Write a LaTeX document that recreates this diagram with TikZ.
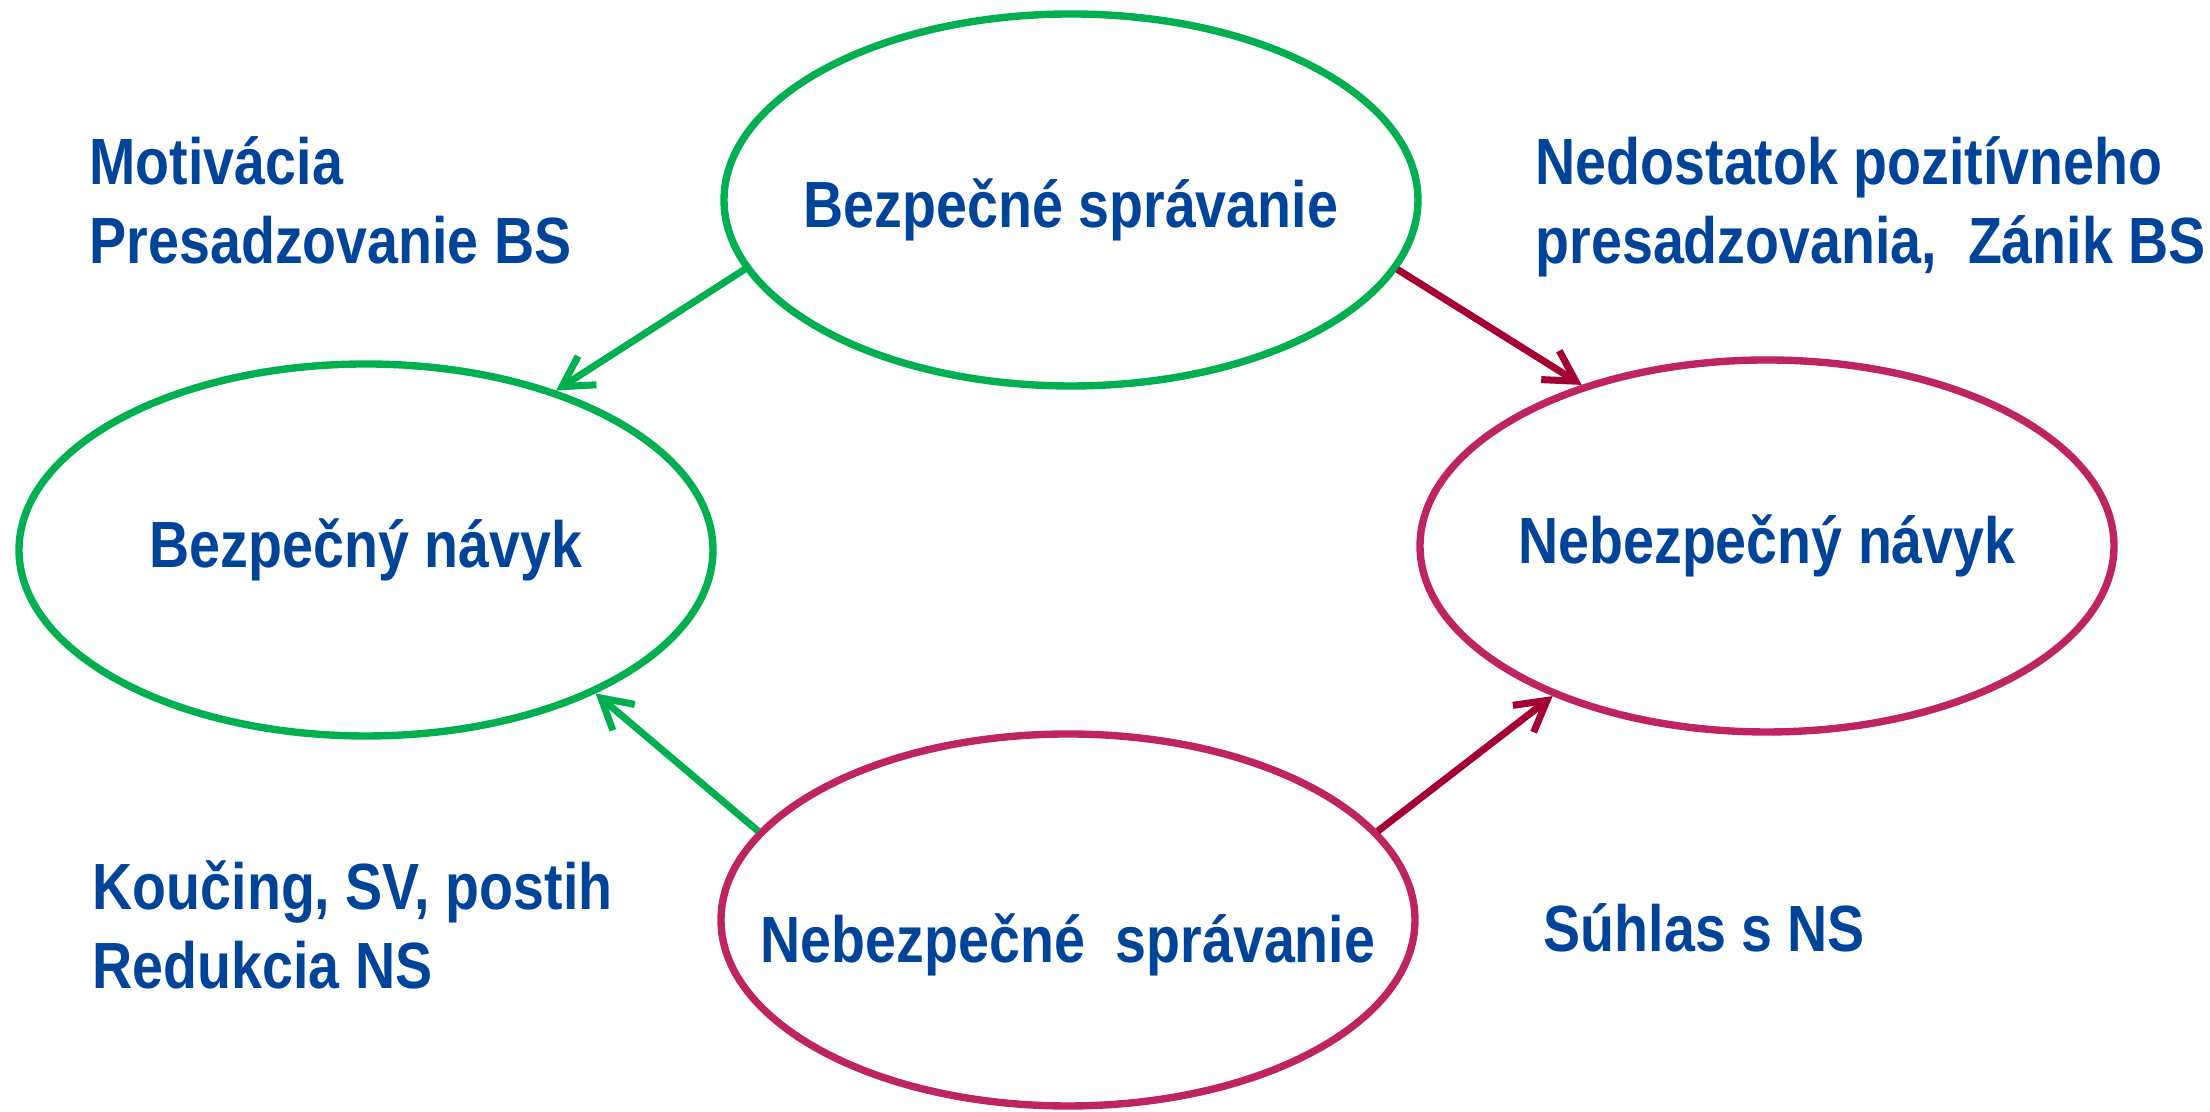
\documentclass[tikz,border=0pt]{standalone}
\usepackage{fontspec}
\setmainfont{Liberation Sans}[FakeStretch=0.85]
\usetikzlibrary{shapes.geometric, arrows.meta}
\definecolor{txtblue}{RGB}{0,68,153}
\definecolor{okgreen}{RGB}{0,176,80}
\definecolor{badpink}{RGB}{190,36,96}
\definecolor{badred}{RGB}{165,0,52}

\begin{document}
\begin{tikzpicture}[
    every node/.style={text=txtblue, font=\fontsize{18.6}{22.5}\selectfont\bfseries},
    oval/.style={ellipse, line width=2.1pt, inner ysep=0pt, inner xsep=-1.5cm, minimum width=6.94cm, minimum height=3.72cm},
    lbl/.style={anchor=base west, align=left, inner sep=0pt},
    arr/.style={line width=2pt, -{Straight Barb[length=3mm,width=3.4mm]}}]
  \useasboundingbox (0,0) rectangle (22.1,11.12);
  % ellipses
  \node[oval, draw=okgreen, text height=0.69cm, text depth=0.14cm] (bs) at (10.71,9.12) {Bezpečné správanie};
  \node[oval, draw=okgreen] (bn) at (3.66,5.62) {Bezpečný návyk};
  \node[oval, draw=badpink] (nn) at (17.67,5.66) {Nebezpečný návyk};
  \node[oval, draw=badpink, text height=1cm, text depth=0.14cm] (ns) at (10.68,1.92) {Nebezpečné~ správanie};
  % side labels (base = last line)
  \node[lbl] (mot) at (0.89,8.48) {Motivácia\\Presadzovanie BS};
  \node[lbl] (ned) at (15.35,8.48) {Nedostatok pozitívneho\\presadzovania,~ Zánik BS};
  \node[lbl] (kou) at (0.92,1.23) {Koučing, SV, postih\\Redukcia NS};
  \node[lbl] (suh) at (15.43,1.60) {Súhlas s NS};
  % arrows
  \draw[arr, okgreen] (bs.192) -- (bn.40);
  \draw[arr, badred] (bs.348) -- (nn.139);
  \draw[arr, okgreen] (ns.164) -- (bn.328);
  \draw[arr, badred] (ns.16) -- (nn.215);
\end{tikzpicture}
\end{document}
